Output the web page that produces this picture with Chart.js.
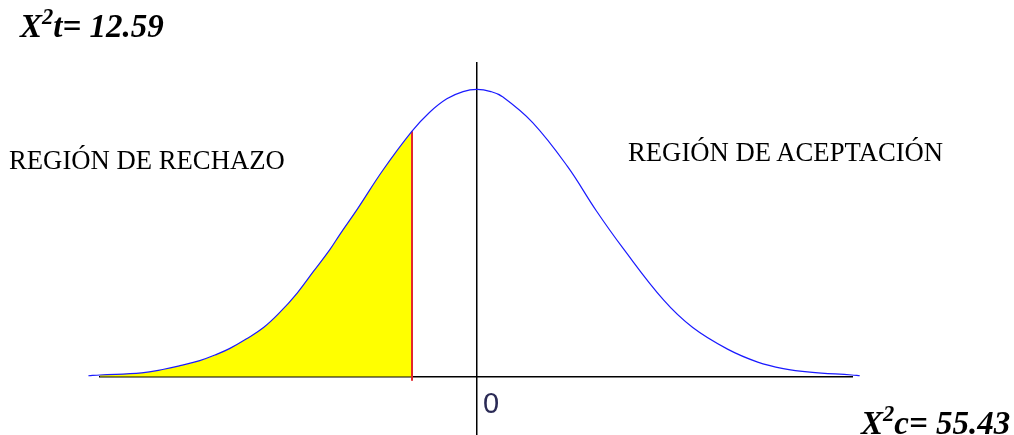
<!DOCTYPE html>
<html>
<head>
<meta charset="utf-8">
<script src="https://cdn.jsdelivr.net/npm/chart.js@4"></script>
<style>
  body { margin: 0; background: #fff; }
  #wrap { position: relative; width: 1014px; height: 435px; overflow: hidden; }
  .lbl { position: absolute; white-space: nowrap; line-height: 1; color: #000; }
  .serif { font-family: "Liberation Serif", "Times New Roman", serif; }
  .stat { font-weight: bold; font-style: italic; font-size: 33px; }
  .stat sup { font-size: 22.5px; vertical-align: baseline; position: relative; top: -12.5px; }
  .region { font-size: 26.7px; }
  .zero { font-family: "Liberation Sans", Arial, sans-serif; font-size: 29px; color: #2a2a55; }
</style>
</head>
<body>
<div id="wrap">
  <canvas id="grafica" width="1014" height="435"></canvas>
  <div class="lbl serif stat" style="left:20px; top:9.5px;">X<sup>2</sup>t= 12.59</div>
  <div class="lbl serif region" style="left:9px; top:147px;">REGIÓN DE RECHAZO</div>
  <div class="lbl serif region" style="left:628px; top:138.6px;">REGIÓN DE ACEPTACIÓN</div>
  <div class="lbl zero" style="left:483px; top:389px;">0</div>
  <div class="lbl serif stat" style="left:861px; top:406.5px;">X<sup>2</sup>c= 55.43</div>
</div>
<script>
// valores (z, densidad)
var zValores = [-3.35, -3.25, -2.89, -2.70, -2.56, -2.39, -2.24, -2.13, -1.99, -1.84, -1.70, -1.55, -1.41, -1.27,
                -1.18, -1.03, -0.81, -0.56, -0.41, -0.26, -0.12, 0, 0.12, 0.22, 0.48, 0.78, 1.03, 1.26,
                1.61, 1.86, 2.16, 2.42, 2.64, 2.87, 3.23, 3.30]
var densidad = [0.001, 0.002, 0.005, 0.010, 0.015, 0.022, 0.031, 0.039, 0.052, 0.068, 0.089, 0.116, 0.146, 0.176,
                0.198, 0.233, 0.287, 0.341, 0.367, 0.386, 0.396, 0.399, 0.396, 0.389, 0.353, 0.292, 0.230, 0.178,
                0.106, 0.068, 0.038, 0.020, 0.011, 0.006, 0.002, 0.001]
var zCritico = -0.56
var yCritico = 0.341

var curva = []
var rechazo = []
zValores.forEach(function(z, i) {
    curva.push({x: z, y: densidad[i]})
    if (z <= zCritico) rechazo.push({x: z, y: densidad[i]})
})

var ctx = document.getElementById('grafica').getContext('2d')
var grafica = new Chart(ctx, {
    type: 'line',
    data: {
        datasets: [
            {
                label: 'rechazo',
                data: rechazo,
                borderWidth: 0,
                backgroundColor: '#ffff00',
                fill: 'origin',
                tension: 0.4,
                pointRadius: 0,
                clip: false,
                order: 3
            },
            {
                label: 'critico',
                data: [{x: zCritico, y: -0.006}, {x: zCritico, y: yCritico}],
                borderColor: '#e3242b',
                borderWidth: 2,
                pointRadius: 0,
                order: 2
            },
            {
                label: 'curva',
                data: curva,
                borderColor: '#1a1aff',
                borderWidth: 1.2,
                tension: 0.4,
                pointRadius: 0,
                clip: false,
                order: 1
            }
        ]
    },
    options: {
        responsive: false,
        animation: false,
        layout: { padding: { left: 100, right: 162, top: 63, bottom: 0 } },
        plugins: { legend: { display: false }, tooltip: { enabled: false } },
        scales: {
            x: {
                type: 'linear',
                position: { y: 0 },
                min: -3.25,
                max: 3.233,
                grid: { display: false },
                ticks: { display: false },
                border: { display: true, color: '#000', width: 1.5 }
            },
            y: {
                type: 'linear',
                position: { x: 0 },
                min: -0.0814,
                max: 0.4358,
                grid: { display: false },
                ticks: { display: false },
                border: { display: true, color: '#000', width: 1.5 }
            }
        }
    }
})
</script>
</body>
</html>
